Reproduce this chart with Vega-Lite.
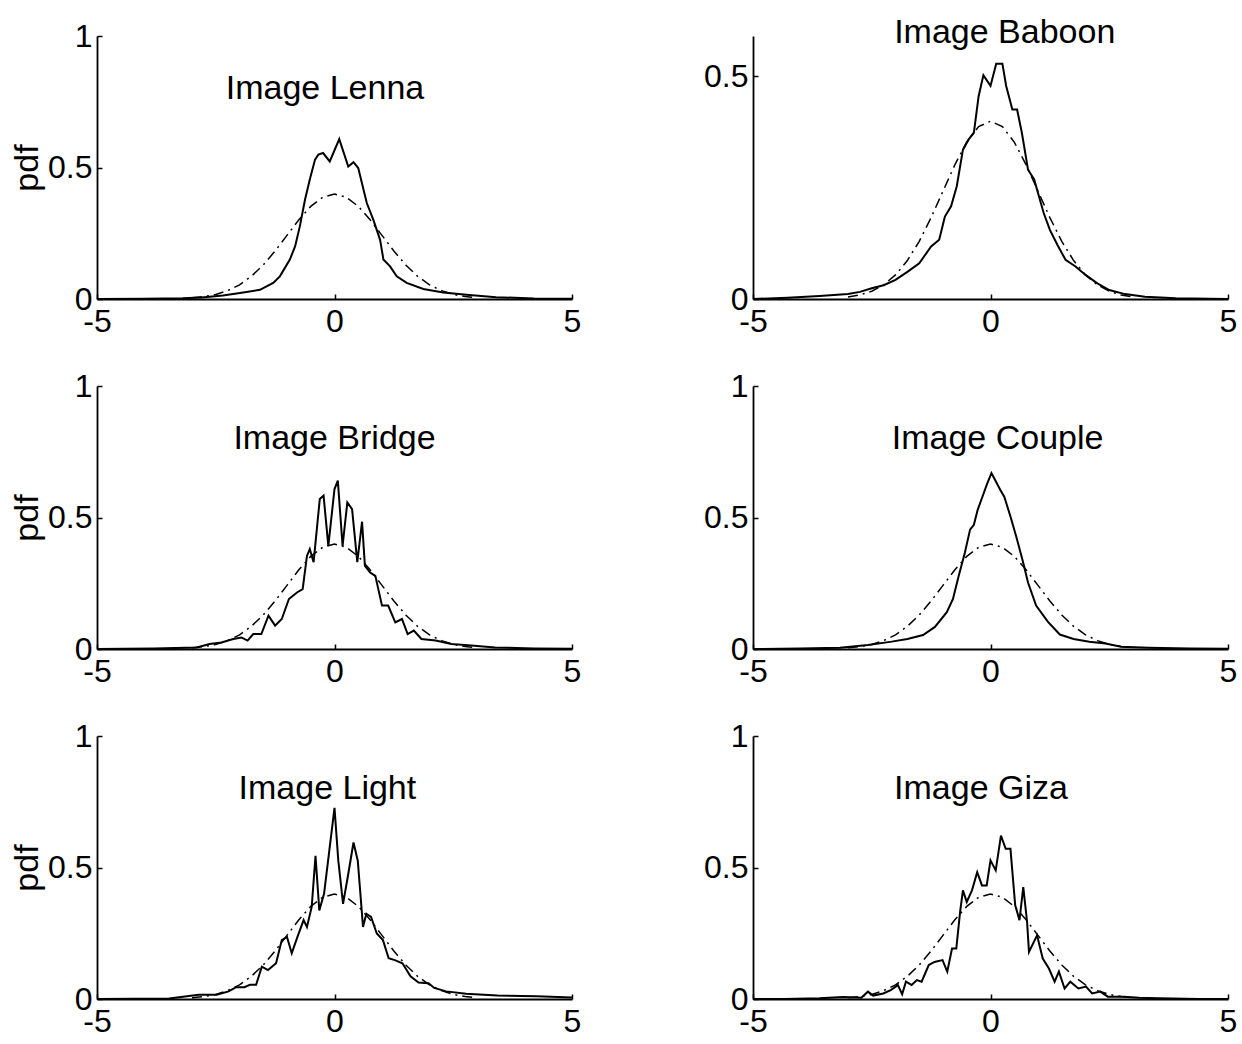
{
  "$schema": "https://vega.github.io/schema/vega-lite/v6.json",
  "background": "white",
  "padding": {"left": 10, "top": 15, "right": 5, "bottom": 0},
  "config": {
    "font": "Liberation Sans",
    "view": {"stroke": null},
    "axis": {
      "grid": false,
      "domainColor": "black",
      "domainWidth": 1.8,
      "tickColor": "black",
      "tickSize": -5,
      "tickWidth": 1.5,
      "labelColor": "black",
      "labelFontSize": 32,
      "labelFont": "Liberation Sans",
      "titleFont": "Liberation Sans",
      "titleFontSize": 34,
      "titleFontWeight": "normal",
      "titleColor": "black",
      "labelExpr": "'' + datum.value"
    },
    "axisX": {"labelFlush": false, "labelPadding": 12},
    "axisY": {"labelFlush": false, "labelPadding": 10, "titlePadding": 3}
  },
  "datasets": {
    "gauss": [
      {"x": -3, "pdf": 0.0044}, {"x": -2.75, "pdf": 0.0091}, {"x": -2.5, "pdf": 0.0175}, {"x": -2.25, "pdf": 0.0317},
      {"x": -2, "pdf": 0.054}, {"x": -1.75, "pdf": 0.0863}, {"x": -1.5, "pdf": 0.1295}, {"x": -1.25, "pdf": 0.1826},
      {"x": -1, "pdf": 0.242}, {"x": -0.75, "pdf": 0.3011}, {"x": -0.5, "pdf": 0.3521}, {"x": -0.25, "pdf": 0.3867},
      {"x": 0, "pdf": 0.3989}, {"x": 0.25, "pdf": 0.3867}, {"x": 0.5, "pdf": 0.3521}, {"x": 0.75, "pdf": 0.3011},
      {"x": 1, "pdf": 0.242}, {"x": 1.25, "pdf": 0.1826}, {"x": 1.5, "pdf": 0.1295}, {"x": 1.75, "pdf": 0.0863},
      {"x": 2, "pdf": 0.054}, {"x": 2.25, "pdf": 0.0317}, {"x": 2.5, "pdf": 0.0175}, {"x": 2.75, "pdf": 0.0091},
      {"x": 3, "pdf": 0.0044}
    ],
    "lenna": [
      {"x": -5, "pdf": 0}, {"x": -4, "pdf": 0.001}, {"x": -3.2, "pdf": 0.003}, {"x": -2.8, "pdf": 0.006},
      {"x": -2.35, "pdf": 0.013}, {"x": -1.99, "pdf": 0.023}, {"x": -1.57, "pdf": 0.035}, {"x": -1.29, "pdf": 0.061},
      {"x": -1.15, "pdf": 0.086}, {"x": -0.94, "pdf": 0.15}, {"x": -0.83, "pdf": 0.2}, {"x": -0.73, "pdf": 0.276},
      {"x": -0.62, "pdf": 0.378}, {"x": -0.52, "pdf": 0.454}, {"x": -0.41, "pdf": 0.53}, {"x": -0.34, "pdf": 0.549},
      {"x": -0.24, "pdf": 0.555}, {"x": -0.1, "pdf": 0.523}, {"x": 0.1, "pdf": 0.608}, {"x": 0.29, "pdf": 0.504},
      {"x": 0.4, "pdf": 0.52}, {"x": 0.5, "pdf": 0.498}, {"x": 0.61, "pdf": 0.416}, {"x": 0.68, "pdf": 0.365},
      {"x": 0.82, "pdf": 0.3}, {"x": 0.96, "pdf": 0.225}, {"x": 1.03, "pdf": 0.15}, {"x": 1.17, "pdf": 0.124},
      {"x": 1.31, "pdf": 0.086}, {"x": 1.52, "pdf": 0.061}, {"x": 1.87, "pdf": 0.038}, {"x": 2.29, "pdf": 0.025},
      {"x": 2.78, "pdf": 0.016}, {"x": 3.4, "pdf": 0.007}, {"x": 4.2, "pdf": 0.002}, {"x": 5, "pdf": 0.001}
    ],
    "baboon": [
      {"x": -5, "pdf": 0}, {"x": -4.27, "pdf": 0.003}, {"x": -3.6, "pdf": 0.007}, {"x": -3.0, "pdf": 0.011},
      {"x": -2.75, "pdf": 0.016}, {"x": -2.5, "pdf": 0.024}, {"x": -2.25, "pdf": 0.031}, {"x": -2.0, "pdf": 0.043},
      {"x": -1.75, "pdf": 0.061}, {"x": -1.5, "pdf": 0.08}, {"x": -1.25, "pdf": 0.118}, {"x": -1.08, "pdf": 0.133},
      {"x": -0.96, "pdf": 0.185}, {"x": -0.83, "pdf": 0.208}, {"x": -0.71, "pdf": 0.253}, {"x": -0.58, "pdf": 0.335},
      {"x": -0.46, "pdf": 0.358}, {"x": -0.35, "pdf": 0.373}, {"x": -0.25, "pdf": 0.455}, {"x": -0.15, "pdf": 0.502},
      {"x": 0, "pdf": 0.478}, {"x": 0.12, "pdf": 0.528}, {"x": 0.25, "pdf": 0.528}, {"x": 0.33, "pdf": 0.478},
      {"x": 0.46, "pdf": 0.425}, {"x": 0.56, "pdf": 0.425}, {"x": 0.66, "pdf": 0.373}, {"x": 0.79, "pdf": 0.29},
      {"x": 0.92, "pdf": 0.268}, {"x": 1.0, "pdf": 0.238}, {"x": 1.12, "pdf": 0.193}, {"x": 1.25, "pdf": 0.155},
      {"x": 1.41, "pdf": 0.121}, {"x": 1.58, "pdf": 0.088}, {"x": 1.79, "pdf": 0.073}, {"x": 2.0, "pdf": 0.054},
      {"x": 2.25, "pdf": 0.035}, {"x": 2.5, "pdf": 0.02}, {"x": 2.83, "pdf": 0.011}, {"x": 3.25, "pdf": 0.005},
      {"x": 3.9, "pdf": 0.0015}, {"x": 5, "pdf": 0}
    ],
    "bridge": [
      {"x": -5, "pdf": 0}, {"x": -3.8, "pdf": 0.002}, {"x": -2.9, "pdf": 0.006}, {"x": -2.63, "pdf": 0.019},
      {"x": -2.38, "pdf": 0.025}, {"x": -2.13, "pdf": 0.038}, {"x": -1.96, "pdf": 0.044}, {"x": -1.83, "pdf": 0.032},
      {"x": -1.71, "pdf": 0.057}, {"x": -1.54, "pdf": 0.057}, {"x": -1.39, "pdf": 0.127}, {"x": -1.25, "pdf": 0.089},
      {"x": -1.11, "pdf": 0.114}, {"x": -0.96, "pdf": 0.19}, {"x": -0.79, "pdf": 0.215}, {"x": -0.67, "pdf": 0.228},
      {"x": -0.58, "pdf": 0.354}, {"x": -0.52, "pdf": 0.38}, {"x": -0.44, "pdf": 0.33}, {"x": -0.31, "pdf": 0.57},
      {"x": -0.23, "pdf": 0.583}, {"x": -0.13, "pdf": 0.392}, {"x": 0, "pdf": 0.608}, {"x": 0.07, "pdf": 0.64},
      {"x": 0.17, "pdf": 0.392}, {"x": 0.27, "pdf": 0.557}, {"x": 0.37, "pdf": 0.532}, {"x": 0.48, "pdf": 0.33},
      {"x": 0.58, "pdf": 0.484}, {"x": 0.64, "pdf": 0.316}, {"x": 0.75, "pdf": 0.291}, {"x": 0.86, "pdf": 0.278},
      {"x": 1.0, "pdf": 0.165}, {"x": 1.13, "pdf": 0.165}, {"x": 1.28, "pdf": 0.101}, {"x": 1.42, "pdf": 0.114},
      {"x": 1.54, "pdf": 0.057}, {"x": 1.67, "pdf": 0.07}, {"x": 1.83, "pdf": 0.038}, {"x": 2.13, "pdf": 0.032},
      {"x": 2.46, "pdf": 0.019}, {"x": 2.88, "pdf": 0.013}, {"x": 3.38, "pdf": 0.006}, {"x": 4.2, "pdf": 0.002},
      {"x": 5, "pdf": 0.001}
    ],
    "couple": [
      {"x": -5, "pdf": 0}, {"x": -4, "pdf": 0.002}, {"x": -3.17, "pdf": 0.005}, {"x": -2.58, "pdf": 0.015},
      {"x": -2.08, "pdf": 0.028}, {"x": -1.75, "pdf": 0.038}, {"x": -1.42, "pdf": 0.053}, {"x": -1.17, "pdf": 0.084},
      {"x": -0.92, "pdf": 0.14}, {"x": -0.79, "pdf": 0.19}, {"x": -0.67, "pdf": 0.278}, {"x": -0.54, "pdf": 0.366},
      {"x": -0.43, "pdf": 0.454}, {"x": -0.35, "pdf": 0.472}, {"x": -0.27, "pdf": 0.529}, {"x": -0.17, "pdf": 0.579},
      {"x": -0.07, "pdf": 0.629}, {"x": 0.02, "pdf": 0.669}, {"x": 0.1, "pdf": 0.642}, {"x": 0.21, "pdf": 0.604},
      {"x": 0.29, "pdf": 0.579}, {"x": 0.42, "pdf": 0.504}, {"x": 0.54, "pdf": 0.429}, {"x": 0.67, "pdf": 0.341},
      {"x": 0.79, "pdf": 0.253}, {"x": 0.96, "pdf": 0.165}, {"x": 1.21, "pdf": 0.103}, {"x": 1.46, "pdf": 0.055},
      {"x": 1.75, "pdf": 0.038}, {"x": 2.08, "pdf": 0.028}, {"x": 2.42, "pdf": 0.021}, {"x": 2.75, "pdf": 0.009},
      {"x": 3.33, "pdf": 0.005}, {"x": 4.2, "pdf": 0.002}, {"x": 5, "pdf": 0.001}
    ],
    "light": [
      {"x": -5, "pdf": 0}, {"x": -4.2, "pdf": 0.001}, {"x": -3.48, "pdf": 0.002}, {"x": -2.86, "pdf": 0.016},
      {"x": -2.48, "pdf": 0.016}, {"x": -2.23, "pdf": 0.029}, {"x": -2.07, "pdf": 0.045}, {"x": -1.9, "pdf": 0.045},
      {"x": -1.78, "pdf": 0.054}, {"x": -1.65, "pdf": 0.054}, {"x": -1.53, "pdf": 0.123}, {"x": -1.4, "pdf": 0.11},
      {"x": -1.23, "pdf": 0.136}, {"x": -1.11, "pdf": 0.224}, {"x": -1.0, "pdf": 0.236}, {"x": -0.9, "pdf": 0.174},
      {"x": -0.78, "pdf": 0.236}, {"x": -0.65, "pdf": 0.3}, {"x": -0.58, "pdf": 0.274}, {"x": -0.48, "pdf": 0.35},
      {"x": -0.4, "pdf": 0.544}, {"x": -0.32, "pdf": 0.337}, {"x": -0.22, "pdf": 0.4}, {"x": -0.11, "pdf": 0.563},
      {"x": 0, "pdf": 0.727}, {"x": 0.08, "pdf": 0.526}, {"x": 0.18, "pdf": 0.362}, {"x": 0.28, "pdf": 0.465},
      {"x": 0.4, "pdf": 0.595}, {"x": 0.49, "pdf": 0.526}, {"x": 0.6, "pdf": 0.274}, {"x": 0.67, "pdf": 0.324},
      {"x": 0.77, "pdf": 0.312}, {"x": 0.89, "pdf": 0.249}, {"x": 1.02, "pdf": 0.224}, {"x": 1.14, "pdf": 0.155},
      {"x": 1.27, "pdf": 0.148}, {"x": 1.43, "pdf": 0.136}, {"x": 1.6, "pdf": 0.086}, {"x": 1.77, "pdf": 0.063},
      {"x": 1.98, "pdf": 0.06}, {"x": 2.1, "pdf": 0.042}, {"x": 2.35, "pdf": 0.029}, {"x": 2.77, "pdf": 0.02},
      {"x": 3.43, "pdf": 0.013}, {"x": 4.25, "pdf": 0.01}, {"x": 5, "pdf": 0.006}
    ],
    "giza": [
      {"x": -5, "pdf": 0}, {"x": -4.35, "pdf": 0}, {"x": -3.6, "pdf": 0.003}, {"x": -3.1, "pdf": 0.008},
      {"x": -2.72, "pdf": 0.005}, {"x": -2.58, "pdf": 0.028}, {"x": -2.47, "pdf": 0.013}, {"x": -2.26, "pdf": 0.021},
      {"x": -2.1, "pdf": 0.034}, {"x": -1.95, "pdf": 0.053}, {"x": -1.86, "pdf": 0.018}, {"x": -1.78, "pdf": 0.066},
      {"x": -1.66, "pdf": 0.053}, {"x": -1.55, "pdf": 0.072}, {"x": -1.45, "pdf": 0.066}, {"x": -1.3, "pdf": 0.129},
      {"x": -1.18, "pdf": 0.141}, {"x": -1.01, "pdf": 0.148}, {"x": -0.91, "pdf": 0.104}, {"x": -0.81, "pdf": 0.192},
      {"x": -0.72, "pdf": 0.192}, {"x": -0.64, "pdf": 0.331}, {"x": -0.58, "pdf": 0.413}, {"x": -0.5, "pdf": 0.369},
      {"x": -0.39, "pdf": 0.413}, {"x": -0.28, "pdf": 0.482}, {"x": -0.18, "pdf": 0.432}, {"x": -0.08, "pdf": 0.432},
      {"x": 0, "pdf": 0.527}, {"x": 0.11, "pdf": 0.489}, {"x": 0.22, "pdf": 0.621}, {"x": 0.32, "pdf": 0.571},
      {"x": 0.42, "pdf": 0.571}, {"x": 0.52, "pdf": 0.356}, {"x": 0.61, "pdf": 0.3}, {"x": 0.69, "pdf": 0.425},
      {"x": 0.77, "pdf": 0.293}, {"x": 0.81, "pdf": 0.179}, {"x": 0.98, "pdf": 0.242}, {"x": 1.1, "pdf": 0.154},
      {"x": 1.23, "pdf": 0.116}, {"x": 1.35, "pdf": 0.066}, {"x": 1.44, "pdf": 0.104}, {"x": 1.56, "pdf": 0.04},
      {"x": 1.68, "pdf": 0.066}, {"x": 1.85, "pdf": 0.04}, {"x": 2.01, "pdf": 0.047}, {"x": 2.14, "pdf": 0.021},
      {"x": 2.31, "pdf": 0.028}, {"x": 2.47, "pdf": 0.009}, {"x": 2.8, "pdf": 0.009}, {"x": 3.13, "pdf": 0.005},
      {"x": 3.55, "pdf": 0.003}, {"x": 4.38, "pdf": 0}, {"x": 5, "pdf": 0}
    ]
  },
  "columns": 2,
  "spacing": {"row": 33, "column": 122},
  "concat": [
    {
      "width": 475, "height": 263,
      "layer": [
        {"data": {"name": "lenna"}, "mark": {"type": "line", "color": "black", "strokeWidth": 2},
         "encoding": {
           "x": {"field": "x", "type": "quantitative", "scale": {"domain": [-5, 5], "nice": false}, "axis": {"values": [-5, 0, 5], "title": null}},
           "y": {"field": "pdf", "type": "quantitative", "scale": {"domain": [0, 1], "nice": false}, "axis": {"values": [0, 0.5, 1], "title": "pdf"}}}},
        {"data": {"name": "gauss"}, "mark": {"type": "line", "color": "black", "strokeWidth": 1.5, "strokeDash": [10, 5, 2, 5]},
         "encoding": {"x": {"field": "x", "type": "quantitative"}, "y": {"field": "pdf", "type": "quantitative"}}},
        {"data": {"values": [{"label": "Image Lenna"}]}, "mark": {"type": "text", "fontSize": 34, "baseline": "middle", "color": "black"},
         "encoding": {"x": {"datum": -0.2}, "y": {"datum": 0.8}, "text": {"field": "label"}}}
      ]
    },
    {
      "width": 475, "height": 263,
      "layer": [
        {"data": {"name": "baboon"}, "mark": {"type": "line", "color": "black", "strokeWidth": 2},
         "encoding": {
           "x": {"field": "x", "type": "quantitative", "scale": {"domain": [-5, 5], "nice": false}, "axis": {"values": [-5, 0, 5], "title": null}},
           "y": {"field": "pdf", "type": "quantitative", "scale": {"domain": [0, 0.59], "nice": false}, "axis": {"values": [0, 0.5], "title": null}}}},
        {"data": {"name": "gauss"}, "mark": {"type": "line", "color": "black", "strokeWidth": 1.5, "strokeDash": [10, 5, 2, 5]},
         "encoding": {"x": {"field": "x", "type": "quantitative"}, "y": {"field": "pdf", "type": "quantitative"}}},
        {"data": {"values": [{"label": "Image Baboon"}]}, "mark": {"type": "text", "fontSize": 34, "baseline": "middle", "color": "black"},
         "encoding": {"x": {"datum": 0.3}, "y": {"datum": 0.597}, "text": {"field": "label"}}}
      ]
    },
    {
      "width": 475, "height": 263,
      "layer": [
        {"data": {"name": "bridge"}, "mark": {"type": "line", "color": "black", "strokeWidth": 2},
         "encoding": {
           "x": {"field": "x", "type": "quantitative", "scale": {"domain": [-5, 5], "nice": false}, "axis": {"values": [-5, 0, 5], "title": null}},
           "y": {"field": "pdf", "type": "quantitative", "scale": {"domain": [0, 1], "nice": false}, "axis": {"values": [0, 0.5, 1], "title": "pdf"}}}},
        {"data": {"name": "gauss"}, "mark": {"type": "line", "color": "black", "strokeWidth": 1.5, "strokeDash": [10, 5, 2, 5]},
         "encoding": {"x": {"field": "x", "type": "quantitative"}, "y": {"field": "pdf", "type": "quantitative"}}},
        {"data": {"values": [{"label": "Image Bridge"}]}, "mark": {"type": "text", "fontSize": 34, "baseline": "middle", "color": "black"},
         "encoding": {"x": {"datum": 0}, "y": {"datum": 0.8}, "text": {"field": "label"}}}
      ]
    },
    {
      "width": 475, "height": 263,
      "layer": [
        {"data": {"name": "couple"}, "mark": {"type": "line", "color": "black", "strokeWidth": 2},
         "encoding": {
           "x": {"field": "x", "type": "quantitative", "scale": {"domain": [-5, 5], "nice": false}, "axis": {"values": [-5, 0, 5], "title": null}},
           "y": {"field": "pdf", "type": "quantitative", "scale": {"domain": [0, 1], "nice": false}, "axis": {"values": [0, 0.5, 1], "title": null}}}},
        {"data": {"name": "gauss"}, "mark": {"type": "line", "color": "black", "strokeWidth": 1.5, "strokeDash": [10, 5, 2, 5]},
         "encoding": {"x": {"field": "x", "type": "quantitative"}, "y": {"field": "pdf", "type": "quantitative"}}},
        {"data": {"values": [{"label": "Image Couple"}]}, "mark": {"type": "text", "fontSize": 34, "baseline": "middle", "color": "black"},
         "encoding": {"x": {"datum": 0.15}, "y": {"datum": 0.8}, "text": {"field": "label"}}}
      ]
    },
    {
      "width": 475, "height": 263,
      "layer": [
        {"data": {"name": "light"}, "mark": {"type": "line", "color": "black", "strokeWidth": 2},
         "encoding": {
           "x": {"field": "x", "type": "quantitative", "scale": {"domain": [-5, 5], "nice": false}, "axis": {"values": [-5, 0, 5], "title": null}},
           "y": {"field": "pdf", "type": "quantitative", "scale": {"domain": [0, 1], "nice": false}, "axis": {"values": [0, 0.5, 1], "title": "pdf"}}}},
        {"data": {"name": "gauss"}, "mark": {"type": "line", "color": "black", "strokeWidth": 1.5, "strokeDash": [10, 5, 2, 5]},
         "encoding": {"x": {"field": "x", "type": "quantitative"}, "y": {"field": "pdf", "type": "quantitative"}}},
        {"data": {"values": [{"label": "Image Light"}]}, "mark": {"type": "text", "fontSize": 34, "baseline": "middle", "color": "black"},
         "encoding": {"x": {"datum": -0.15}, "y": {"datum": 0.8}, "text": {"field": "label"}}}
      ]
    },
    {
      "width": 475, "height": 263,
      "layer": [
        {"data": {"name": "giza"}, "mark": {"type": "line", "color": "black", "strokeWidth": 2},
         "encoding": {
           "x": {"field": "x", "type": "quantitative", "scale": {"domain": [-5, 5], "nice": false}, "axis": {"values": [-5, 0, 5], "title": null}},
           "y": {"field": "pdf", "type": "quantitative", "scale": {"domain": [0, 1], "nice": false}, "axis": {"values": [0, 0.5, 1], "title": null}}}},
        {"data": {"name": "gauss"}, "mark": {"type": "line", "color": "black", "strokeWidth": 1.5, "strokeDash": [10, 5, 2, 5]},
         "encoding": {"x": {"field": "x", "type": "quantitative"}, "y": {"field": "pdf", "type": "quantitative"}}},
        {"data": {"values": [{"label": "Image Giza"}]}, "mark": {"type": "text", "fontSize": 34, "baseline": "middle", "color": "black"},
         "encoding": {"x": {"datum": -0.2}, "y": {"datum": 0.8}, "text": {"field": "label"}}}
      ]
    }
  ]
}
